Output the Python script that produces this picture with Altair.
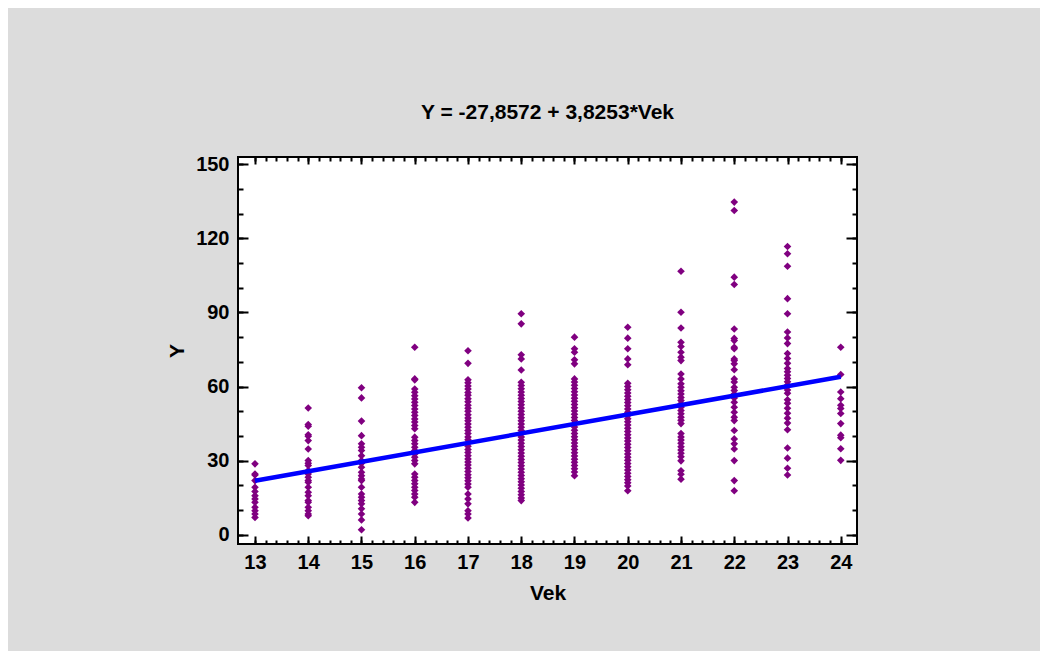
import altair as alt
import pandas as pd

# ---- data ----
ages = [13, 14, 15, 16, 17, 18, 19, 20, 21, 22, 23, 24]

v13 = [28.7, 24.6, 24.2, 21.9, 19.2, 17.5, 15.8, 14.5, 13.1, 11.1, 9.7, 8.4, 7.0]
v14 = [51.3, 44.6, 43.9, 40.5, 39.9, 38.1, 34.7, 30.0, 28.9, 28.0, 26.0, 24.6,
       23.3, 21.9, 21.2, 19.2, 17.2, 15.8, 13.8, 13.1, 11.1, 9.7, 8.4, 7.7]
v15 = [59.5, 55.4, 46.0, 40.1, 36.8, 35.4, 34.1, 32.0, 30.0, 28.9, 27.3, 25.3,
       23.9, 22.6, 21.9, 19.2, 16.5, 15.2, 13.8, 12.5, 10.5, 8.4, 6.0, 2.0]
v16 = [75.9, 63.1, 62.7, 59.0, 57.7, 56.3, 55.0, 53.6, 52.3, 50.9, 49.6, 48.3,
       46.9, 45.6, 44.2, 42.9, 39.5, 38.1, 36.8, 35.4, 34.1, 32.7, 31.4, 30.0,
       28.7, 24.6, 23.3, 21.9, 20.6, 19.2, 17.9, 16.5, 15.2, 13.1]
v17 = [74.5, 69.4, 62.7, 61.5, 60.2, 59.0, 57.6, 56.5, 55.1, 53.8, 52.4, 51.2,
       50.0, 48.6, 47.3, 46.1, 44.8, 43.5, 42.2, 41.0, 39.6, 38.4, 37.1, 35.8,
       34.5, 33.3, 32.0, 30.7, 29.4, 28.2, 26.9, 25.6, 24.3, 23.1, 21.8, 20.5,
       19.2, 16.5, 14.5, 12.5, 9.7, 8.4, 6.8]
v18 = [89.5, 85.4, 72.9, 71.2, 66.7, 61.7, 60.4, 59.1, 57.8, 56.5, 55.2, 53.9,
       52.6, 51.3, 50.0, 48.7, 47.4, 46.1, 44.8, 43.5, 42.2, 40.9, 39.6, 38.3,
       37.0, 35.7, 34.4, 33.1, 31.8, 30.5, 29.2, 27.9, 26.6, 25.3, 24.0, 22.7,
       21.4, 20.1, 18.8, 17.5, 16.2, 14.9, 13.8]
v19 = [80.0, 75.3, 73.9, 70.8, 69.2, 63.1, 61.8, 60.5, 59.2, 57.9, 56.6, 55.3,
       54.0, 52.7, 51.4, 50.1, 48.8, 47.5, 46.2, 44.9, 43.6, 42.3, 41.0, 39.7,
       38.4, 37.1, 35.8, 34.5, 33.2, 31.9, 30.6, 29.3, 28.0, 26.7, 25.4, 23.9]
v20 = [84.0, 79.6, 75.3, 71.2, 68.8, 61.3, 60.0, 58.7, 57.4, 56.1, 54.8, 53.5,
       52.2, 50.9, 49.6, 48.3, 47.0, 45.7, 44.4, 43.1, 41.8, 40.5, 39.2, 37.9,
       36.6, 35.3, 34.0, 32.7, 31.4, 30.1, 28.8, 27.5, 26.2, 24.9, 23.6, 22.3,
       21.0, 19.7, 17.8]
v21 = [106.7, 90.1, 83.7, 77.9, 76.2, 73.9, 71.9, 70.5, 65.1, 63.1, 61.1, 59.7,
       58.3, 57.0, 55.6, 54.3, 53.0, 51.6, 50.3, 49.0, 47.6, 46.3, 45.0, 41.0,
       39.6, 38.3, 37.0, 35.6, 34.3, 33.0, 31.6, 29.9, 25.9, 24.5, 22.5]
v22 = [134.7, 131.3, 104.3, 101.3, 83.3, 79.5, 78.6, 75.9, 75.3, 71.2, 70.5,
       69.2, 66.8, 63.1, 61.8, 59.7, 58.4, 57.0, 55.4, 53.6, 51.6, 49.6, 47.6,
       46.2, 42.2, 38.8, 36.8, 34.7, 30.0, 21.9, 17.8]
v23 = [116.7, 113.8, 108.7, 95.6, 89.5, 82.1, 79.7, 77.4, 73.4, 71.4, 69.4,
       67.3, 66.0, 64.6, 63.3, 61.9, 60.6, 58.6, 57.3, 54.6, 53.2, 51.2, 49.2,
       47.2, 45.2, 42.5, 35.1, 31.0, 26.9, 24.2]
v24 = [75.9, 64.9, 57.8, 55.1, 52.4, 51.1, 49.1, 45.0, 40.3, 39.3, 34.8, 30.1]

values = [v13, v14, v15, v16, v17, v18, v19, v20, v21, v22, v23, v24]

intercept = -27.8572
slope = 3.8253
line_x = [13, 24]

title_text = "Y = -27,8572 + 3,8253*Vek"

major_x = [13, 14, 15, 16, 17, 18, 19, 20, 21, 22, 23, 24]
minor_x = [round(13 + i * 0.2, 1) for i in range(56)]
major_y = [0, 30, 60, 90, 120, 150]
minor_y = [0, 10, 20, 30, 40, 50, 60, 70, 80, 90, 100, 110, 120, 130, 140, 150]

# ---- build tables ----
pts = pd.DataFrame(
    [{"Vek": a, "Y": y} for a, vs in zip(ages, values) for y in vs]
)
line_df = pd.DataFrame({"Vek": line_x})

FONT = "Liberation Sans"
xscale = alt.Scale(domain=[12.681, 24.305], nice=False, zero=False)
yscale = alt.Scale(domain=[-3.77, 152.96], nice=False, zero=False)

common = dict(domain=False, grid=False, labelFlush=False, labelOverlap=False)

points = alt.Chart(pts).mark_point(
    shape="diamond", filled=True, size=58, color="#800080", opacity=1
).encode(
    x=alt.X("Vek:Q", scale=xscale,
            axis=alt.Axis(orient="bottom", values=major_x, tickSize=8, offset=-8,
                          labelPadding=8, title="Vek", titlePadding=10,
                          format="d", **common)),
    y=alt.Y("Y:Q", scale=yscale,
            axis=alt.Axis(orient="left", values=major_y, tickSize=10, offset=-10,
                          labelPadding=9, title="Y", titlePadding=8,
                          format="d", **common)),
)

reg = alt.Chart(line_df).transform_calculate(
    Y=f"{intercept} + {slope} * datum.Vek"
).mark_line(color="#0000ff", strokeWidth=4.5).encode(
    x=alt.X("Vek:Q", scale=xscale,
            axis=alt.Axis(orient="top", values=major_x, tickSize=7, offset=-7,
                          labels=False, title=None, **common)),
    y=alt.Y("Y:Q", scale=yscale,
            axis=alt.Axis(orient="right", values=major_y, tickSize=11, offset=-11,
                          labels=False, title=None, **common)),
)

minor_lb = alt.Chart(pts).mark_point(opacity=0).encode(
    x=alt.X("Vek:Q", scale=xscale,
            axis=alt.Axis(orient="bottom", values=minor_x, tickSize=4, offset=-4,
                          labels=False, title=None, **common)),
    y=alt.Y("Y:Q", scale=yscale,
            axis=alt.Axis(orient="left", values=minor_y, tickSize=5, offset=-5,
                          labels=False, title=None, **common)),
)

minor_tr = alt.Chart(pts).mark_point(opacity=0).encode(
    x=alt.X("Vek:Q", scale=xscale,
            axis=alt.Axis(orient="top", values=minor_x, tickSize=4, offset=-4,
                          labels=False, title=None, **common)),
    y=alt.Y("Y:Q", scale=yscale,
            axis=alt.Axis(orient="right", values=minor_y, tickSize=5, offset=-5,
                          labels=False, title=None, **common)),
)

chart = alt.layer(minor_lb, minor_tr, points, reg).resolve_scale(
    x="independent", y="independent"
).properties(
    width=619,
    height=387,
    title=alt.Title(title_text, font=FONT, fontSize=21, fontWeight="bold",
                    color="black", anchor="middle", baseline="alphabetic",
                    offset=14),
    background="#dcdcdc",
    autosize=alt.AutoSizeParams(type="none"),
    padding={"left": 230, "top": 149, "right": 183, "bottom": 107},
).configure_view(
    fill="white", stroke="black", strokeWidth=2
).configure_axis(
    labelFont=FONT, labelFontSize=20, labelFontWeight="bold", labelColor="black",
    titleFont=FONT, titleFontSize=21, titleFontWeight="bold", titleColor="black",
    tickColor="black", tickWidth=2,
)

chart.save("out.html", embed_options={"renderer": "svg", "actions": False})
